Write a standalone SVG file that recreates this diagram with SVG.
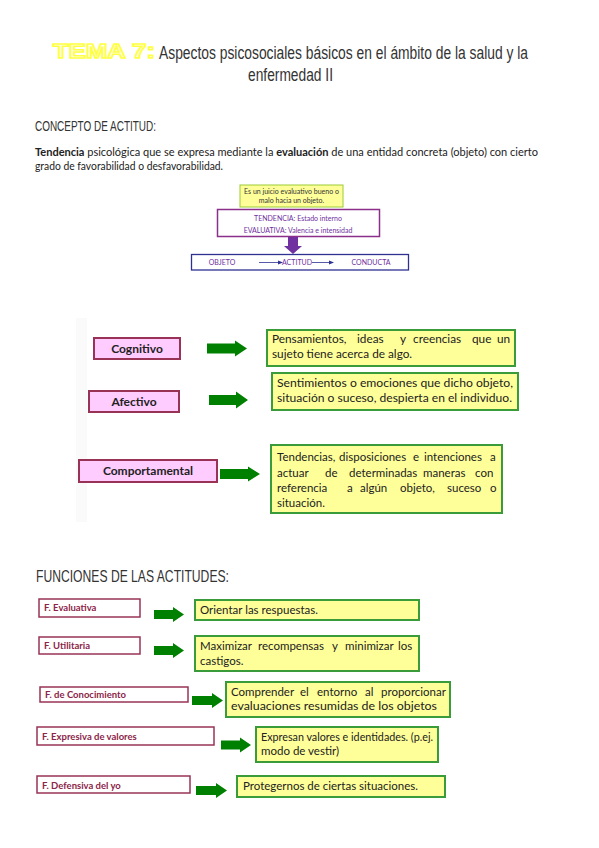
<svg xmlns="http://www.w3.org/2000/svg" width="599" height="848" viewBox="0 0 599 848">
<style>
.h{font-family:"Liberation Sans",Arial,sans-serif;fill:#333}
.c{font-family:Lato,"Open Sans",sans-serif;fill:#222}
.pink{fill:#ffccff;stroke:#993355;stroke-width:2}
.wbox{fill:#fff;stroke:#993355;stroke-width:1.5}
.ybox{fill:#ffff99;stroke:#3a9b3a;stroke-width:2}
.lab{font-family:Lato,"Open Sans",sans-serif;font-weight:bold;fill:#222;font-size:12px;text-anchor:middle}
.flab{font-family:Lato,"Open Sans",sans-serif;font-weight:bold;fill:#8b2448;font-size:9.5px}
.ga{fill:#008000}
.pt{font-family:Lato,"Open Sans",sans-serif;fill:#7030a0;font-size:7px;text-anchor:middle}
</style>
<rect width="599" height="848" fill="#fff"/>
<g id="title">
<text x="53" y="58" font-family="'Liberation Sans',Arial,sans-serif" font-weight="bold" font-size="21" fill="#fff" stroke="#ffff44" stroke-width="1.6" textLength="102" lengthAdjust="spacingAndGlyphs">TEMA 7:</text>
<g transform="translate(159,59) scale(0.72,1)">
<text class="h" x="0" y="0" font-size="18.5" textLength="512.5" lengthAdjust="spacingAndGlyphs">Aspectos psicosociales básicos en el ámbito de la salud y la</text>
</g>
<g transform="translate(248,81) scale(0.72,1)">
<text class="h" x="0" y="0" font-size="18.5" textLength="118" lengthAdjust="spacingAndGlyphs">enfermedad II</text>
</g>
</g>
<g id="concepto">
<g transform="translate(35,131) scale(0.72,1)">
<text class="h" x="0" y="0" font-size="14.5" textLength="168" lengthAdjust="spacingAndGlyphs">CONCEPTO DE ACTITUD:</text>
</g>
<text class="c" x="35" y="156" font-size="11" textLength="503" lengthAdjust="spacingAndGlyphs"><tspan font-weight="bold">Tendencia</tspan> psicológica que se expresa mediante la <tspan font-weight="bold">evaluación</tspan> de una entidad concreta (objeto) con cierto</text>
<text class="c" x="35" y="170" font-size="11" textLength="188" lengthAdjust="spacingAndGlyphs">grado de favorabilidad o desfavorabilidad.</text>
</g>
<g id="mini-diagram">
<rect x="240" y="185" width="103" height="22" fill="#ffff99" stroke="#99cc33" stroke-width="1"/>
<text class="pt" x="291.5" y="194" style="fill:#333">Es un juicio evaluativo bueno  o</text>
<text class="pt" x="291.5" y="203" style="fill:#333">malo hacia un objeto.</text>
<rect x="217.5" y="209.5" width="162" height="27" fill="#fff" stroke="#8b2f8b" stroke-width="1.5"/>
<text class="pt" x="298" y="221">TENDENCIA: Estado interno</text>
<text class="pt" x="298" y="233">EVALUATIVA: Valencia e intensidad</text>
<path d="M288 237 H298 V246 H302 L293 254 L284 246 H288 Z" fill="#7030a0"/>
<rect x="191.5" y="254.5" width="217" height="15.5" fill="#fff" stroke="#2e3192" stroke-width="1.3"/>
<text class="pt" x="222" y="265">OBJETO</text>
<text class="pt" x="297" y="265">ACTITUD</text>
<text class="pt" x="371" y="265">CONDUCTA</text>
<path d="M259 262.5 H281 M312 262.5 H332" stroke="#2e3192" stroke-width="0.8"/>
<path d="M283 262.5 L278 260.5 V264.5 Z M334 262.5 L329 260.5 V264.5 Z" fill="#2e3192"/>
</g>
<rect x="76" y="318" width="11" height="204" fill="#fafafa"/>
<g id="cognitivo">
<rect class="pink" x="94" y="338" width="86" height="21"/>
<text class="lab" x="137" y="353">Cognitivo</text>
</g>
<g id="cognitivo-desc">
<rect class="ybox" x="267" y="330" width="248" height="36"/>
<text class="c" y="343" font-size="11.8"><tspan x="272">Pensamientos,</tspan><tspan x="357">ideas</tspan><tspan x="400">y</tspan><tspan x="413">creencias</tspan><tspan x="472">que</tspan><tspan x="497">un</tspan></text>
<text class="c" x="272" y="358" font-size="11.8">sujeto tiene acerca de algo.</text>
</g>
<g id="afectivo">
<rect class="pink" x="89" y="391" width="90" height="21"/>
<text class="lab" x="134" y="406">Afectivo</text>
</g>
<g id="afectivo-desc">
<rect class="ybox" x="272" y="373" width="246" height="37"/>
<text class="c" x="277" y="387" font-size="12" textLength="236" lengthAdjust="spacingAndGlyphs">Sentimientos o emociones que dicho objeto,</text>
<text class="c" x="277" y="402" font-size="12" textLength="235" lengthAdjust="spacingAndGlyphs">situación o suceso, despierta en el individuo.</text>
</g>
<g id="comportamental">
<rect class="pink" x="79" y="460" width="138" height="22"/>
<text class="lab" x="148" y="475">Comportamental</text>
</g>
<g id="comportamental-desc">
<rect class="ybox" x="271" y="445" width="231" height="68"/>
<text class="c" y="461" font-size="11.5"><tspan x="277">Tendencias,</tspan><tspan x="339">disposiciones</tspan><tspan x="413">e</tspan><tspan x="424">intenciones</tspan><tspan x="490">a</tspan></text>
<text class="c" y="477" font-size="11.5"><tspan x="277">actuar</tspan><tspan x="325">de</tspan><tspan x="349">determinadas</tspan><tspan x="423">maneras</tspan><tspan x="475">con</tspan></text>
<text class="c" y="492" font-size="11.5"><tspan x="277">referencia</tspan><tspan x="347">a</tspan><tspan x="360">algún</tspan><tspan x="400">objeto,</tspan><tspan x="447">suceso</tspan><tspan x="490">o</tspan></text>
<text class="c" x="277" y="507" font-size="11.5">situación.</text>
</g>
<g id="funciones-title">
<g transform="translate(36,582) scale(0.72,1)">
<text class="h" x="0" y="0" font-size="16" textLength="268" lengthAdjust="spacingAndGlyphs">FUNCIONES DE LAS ACTITUDES:</text>
</g>
</g>
<g id="f-evaluativa">
<rect class="wbox" x="39" y="599" width="101" height="18"/>
<text class="flab" x="44" y="611">F. Evaluativa</text>
</g>
<g id="f-evaluativa-desc">
<rect class="ybox" x="195" y="600" width="224" height="20"/>
<text class="c" x="200" y="614" font-size="11.5">Orientar las respuestas.</text>
</g>
<g id="f-utilitaria">
<rect class="wbox" x="39" y="637" width="101" height="17"/>
<text class="flab" x="44" y="649">F. Utilitaria</text>
</g>
<g id="f-utilitaria-desc">
<rect class="ybox" x="195" y="636" width="224" height="35"/>
<text class="c" y="650" font-size="11.5"><tspan x="200">Maximizar</tspan><tspan x="258">recompensas</tspan><tspan x="332">y</tspan><tspan x="345">minimizar</tspan><tspan x="398">los</tspan></text>
<text class="c" x="200" y="665" font-size="11.5">castigos.</text>
</g>
<g id="f-conocimiento">
<rect class="wbox" x="40" y="687" width="148" height="15"/>
<text class="flab" x="45" y="698">F. de Conocimiento</text>
</g>
<g id="f-conocimiento-desc">
<rect class="ybox" x="226" y="682" width="224" height="35"/>
<text class="c" y="696" font-size="11.5"><tspan x="231">Comprender</tspan><tspan x="300">el</tspan><tspan x="317">entorno</tspan><tspan x="365">al</tspan><tspan x="381">proporcionar</tspan></text>
<text class="c" x="231" y="710" font-size="11.5" textLength="206" lengthAdjust="spacingAndGlyphs">evaluaciones resumidas de los objetos</text>
</g>
<g id="f-expresiva">
<rect class="wbox" x="37" y="727" width="177" height="18"/>
<text class="flab" x="42" y="740">F. Expresiva de valores</text>
</g>
<g id="f-expresiva-desc">
<rect class="ybox" x="256" y="727" width="182" height="35"/>
<text class="c" x="261" y="741" font-size="11.5" textLength="172" lengthAdjust="spacingAndGlyphs">Expresan valores e identidades. (p.ej.</text>
<text class="c" x="261" y="755" font-size="11.5">modo de vestir)</text>
</g>
<g id="f-defensiva">
<rect class="wbox" x="37" y="776" width="153" height="17"/>
<text class="flab" x="42" y="789">F. Defensiva del yo</text>
</g>
<g id="f-defensiva-desc">
<rect class="ybox" x="237" y="776" width="208" height="21"/>
<text class="c" x="243" y="790" font-size="11.5">Protegernos de ciertas situaciones.</text>
</g>
<g id="connectors" class="ga">
<path d="M207 343.5 H235 V340.5 L247 348.5 L235 356.5 V353.5 H207 Z"/>
<path d="M209 395 H236 V391.5 L248 400 L236 408.5 V405 H209 Z"/>
<path d="M220 469 H248 V466.5 L260 474 L248 481.5 V479 H220 Z"/>
<path d="M154 610 H173 V607 L184 614.5 L173 622 V619 H154 Z"/>
<path d="M154 646 H173 V643 L184 650.5 L173 658 V655 H154 Z"/>
<path d="M192 696 H212 V693 L223 700.5 L212 708 V705 H192 Z"/>
<path d="M221 740.5 H240 V737.5 L251 745 L240 752.5 V749.5 H221 Z"/>
<path d="M196 786 H216 V783 L227 790.5 L216 798 V795 H196 Z"/>
</g>
</svg>
